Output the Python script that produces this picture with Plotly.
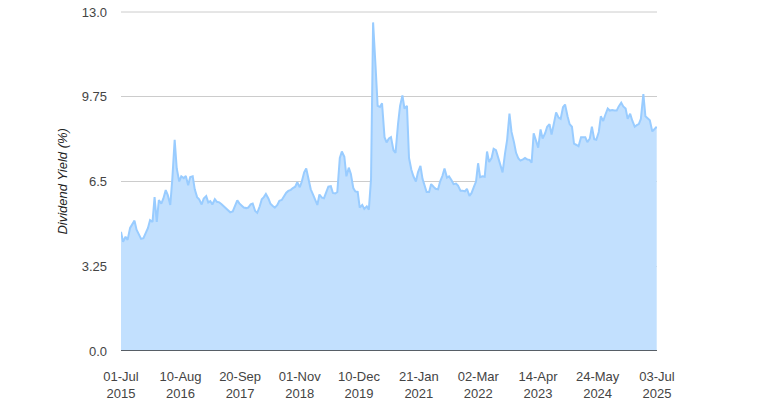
import plotly.graph_objects as go
import pandas as pd

# semi-monthly observations (1st and 15th of each month), Jul 2015 .. Jul 2025
dates = pd.date_range("2015-07-01", "2025-07-01", freq="SMS")

y2015 = [4.57, 4.19, 4.38, 4.26, 4.72, 4.85, 5.0, 4.65, 4.45, 4.3, 4.33, 4.52]
y2016 = [4.72, 5.02, 4.95, 5.9, 4.95, 5.79, 5.65, 5.85, 6.17, 5.98, 5.6, 6.6,
         8.1, 7.0, 6.5, 6.7, 6.63, 6.71, 6.36, 6.67, 6.7, 6.2, 5.9, 5.82]
y2017 = [5.62, 5.85, 5.94, 5.7, 5.75, 5.62, 5.82, 5.72, 5.7, 5.64, 5.56, 5.48,
         5.4, 5.32, 5.35, 5.58, 5.78, 5.66, 5.58, 5.5, 5.48, 5.5, 5.62, 5.65]
y2018 = [5.37, 5.3, 5.55, 5.82, 5.9, 6.02, 5.85, 5.65, 5.56, 5.5, 5.6, 5.76,
         5.79, 5.92, 6.07, 6.14, 6.18, 6.25, 6.3, 6.47, 6.28, 6.5, 6.85, 7.0]
y2019 = [6.6, 6.2, 5.98, 5.75, 5.6, 6.0, 5.88, 5.86, 6.1, 6.3, 6.32, 6.06,
         6.04, 6.1, 7.4, 7.65, 7.45, 6.7, 7.03, 6.8, 6.25, 6.12, 6.1, 5.5]
y2020 = [5.6, 5.45, 5.55, 5.42, 6.6, 12.6, 10.9, 9.4, 9.36, 9.5, 8.2, 8.0,
         8.15, 8.2, 7.7, 7.6, 8.7, 9.4, 9.8, 9.3, 9.4, 7.4, 6.95, 6.7]
y2021 = [6.5, 6.85, 7.1, 6.6, 6.35, 6.1, 6.1, 6.4, 6.3, 6.22, 6.2, 6.5,
         6.72, 7.0, 6.65, 6.7, 6.55, 6.4, 6.42, 6.34, 6.15, 6.15, 6.12, 6.22]
y2022 = [5.95, 6.05, 6.3, 6.5, 7.2, 6.67, 6.7, 6.68, 7.65, 7.25, 7.4, 7.75,
         7.7, 7.42, 7.1, 6.85, 7.59, 8.1, 9.1, 8.4, 8.0, 7.6, 7.38, 7.3]
y2023 = [7.35, 7.4, 7.34, 7.33, 7.22, 8.35, 8.05, 7.8, 8.5, 8.15, 8.35, 8.6,
         8.7, 8.3, 8.75, 9.15, 8.95, 8.9, 9.35, 9.45, 9.0, 8.7, 8.6, 7.95]
y2024 = [7.9, 7.85, 8.2, 8.2, 8.2, 8.01, 8.15, 8.6, 8.12, 8.1, 8.4, 9.0,
         8.82, 9.05, 9.3, 9.22, 9.24, 9.22, 9.22, 9.38, 9.52, 9.38, 9.3, 8.9]
y2025 = [9.1, 8.84, 8.6, 8.66, 8.7, 8.9, 9.85, 9.0, 8.93, 8.85, 8.42, 8.5, 8.6]

yields = y2015 + y2016 + y2017 + y2018 + y2019 + y2020 + y2021 + y2022 + y2023 + y2024 + y2025

tick_dates = ["2015-07-01", "2016-08-10", "2017-09-20", "2018-11-01", "2019-12-10",
              "2021-01-21", "2022-03-02", "2023-04-14", "2024-05-24", "2025-07-03"]
tick_text = ["01-Jul<br>2015", "10-Aug<br>2016", "20-Sep<br>2017", "01-Nov<br>2018",
             "10-Dec<br>2019", "21-Jan<br>2021", "02-Mar<br>2022", "14-Apr<br>2023",
             "24-May<br>2024", "03-Jul<br>2025"]
y_ticks = [0.0, 3.25, 6.5, 9.75, 13.0]
y_text = ["0.0", "3.25", "6.5", "9.75", "13.0"]

fig = go.Figure()
fig.add_trace(go.Scatter(
    x=dates, y=yields,
    mode="lines",
    line=dict(color="#99ccff", width=2),
    fill="tozeroy",
    fillcolor="#c2e0fe",
    hoverinfo="x+y",
))

font = dict(family="Liberation Sans, Arial, sans-serif", size=13, color="#444444")

fig.update_layout(
    width=779, height=400,
    margin=dict(l=121, r=122, t=12, b=49),
    paper_bgcolor="white",
    plot_bgcolor="white",
    showlegend=False,
    font=font,
    xaxis=dict(
        range=["2015-07-01", "2025-07-03"],
        tickvals=tick_dates,
        ticktext=tick_text,
        showgrid=False,
        zeroline=False,
        showline=False,
        ticks="",
        automargin=False,
        ticklabelstandoff=16,
        ticklabeloverflow="allow",
        tickfont=dict(size=13, color="#444444"),
    ),
    yaxis=dict(
        range=[0, 13.0],
        tickvals=y_ticks,
        ticktext=y_text,
        showgrid=True,
        gridcolor="#cccccc",
        gridwidth=1,
        zeroline=False,
        showline=False,
        ticks="",
        automargin=False,
        ticklabelstandoff=13,
        ticklabeloverflow="allow",
        tickfont=dict(size=13, color="#444444"),
    ),
)

# y-axis title, italic as in the reference
fig.add_annotation(text="<i>Dividend Yield (%)</i>", xref="paper", yref="paper",
                   x=-0.110, y=0.5, xanchor="center", yanchor="middle", textangle=-90,
                   showarrow=False, font=dict(size=13, color="#222222"))

# top gridline (plotly drops the one on the plot edge) and dark baseline at zero
fig.add_shape(type="line", xref="paper", yref="paper", x0=0, x1=1, y0=1, y1=1,
              line=dict(color="#cccccc", width=1), layer="below")
fig.add_shape(type="line", xref="paper", yref="y", x0=0, x1=1, y0=0, y1=0,
              line=dict(color="#333333", width=1.5))

# drop the browser's default 8px body margin so the figure sits at the page corner
fig.write_html("out.html", config={"displayModeBar": False},
               post_script="document.body.style.margin='0px';")
